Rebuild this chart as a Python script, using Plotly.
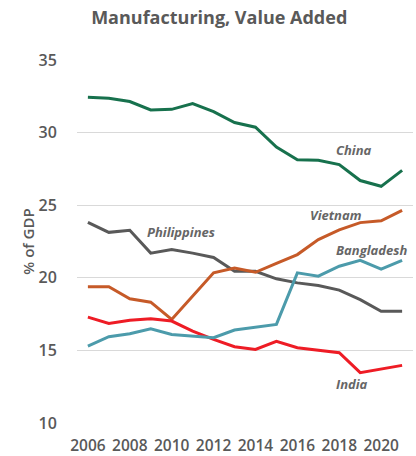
import plotly.graph_objects as go

years = list(range(2006, 2022))
china = [32.43, 32.37, 32.14, 31.56, 31.6, 32.0, 31.45, 30.69, 30.37, 29.0, 28.13, 28.1, 27.8, 26.7, 26.3, 27.4]
philippines = [23.82, 23.13, 23.27, 21.7, 21.94, 21.7, 21.4, 20.45, 20.45, 19.93, 19.65, 19.47, 19.15, 18.5, 17.7, 17.7]
vietnam = [19.38, 19.38, 18.55, 18.32, 17.13, 18.7, 20.34, 20.68, 20.38, 21.0, 21.6, 22.63, 23.3, 23.8, 23.93, 24.64]
india = [17.29, 16.86, 17.08, 17.18, 17.02, 16.33, 15.76, 15.25, 15.07, 15.62, 15.18, 15.0, 14.84, 13.47, 13.7, 13.97]
bangladesh = [15.3, 15.94, 16.15, 16.49, 16.1, 15.98, 15.87, 16.4, 16.58, 16.79, 20.34, 20.11, 20.8, 21.2, 20.6, 21.2]

series = [
    ("China", china, "#17714d"),
    ("Philippines", philippines, "#595959"),
    ("Vietnam", vietnam, "#c65a28"),
    ("India", india, "#ee1c25"),
    ("Bangladesh", bangladesh, "#4c9bab"),
]

label_pos = {
    "China": (2018.7, 28.8),
    "Vietnam": (2017.85, 24.3),
    "Philippines": (2010.45, 23.15),
    "Bangladesh": (2019.55, 21.9),
    "India": (2018.6, 12.7),
}

FONT = "Open Sans"
GRAY = "#595959"

fig = go.Figure()
for name, vals, col in series:
    fig.add_trace(go.Scatter(x=years, y=vals, mode="lines", name=name,
                             line=dict(color=col, width=3)))

for name, (lx, ly) in label_pos.items():
    fig.add_annotation(x=lx, y=ly, text=f"<i><b>{name}</b></i>", showarrow=False,
                       font=dict(family=FONT, size=13, color="#666666"))

fig.update_layout(
    width=416, height=456,
    margin=dict(l=77, r=3, t=60, b=33),
    paper_bgcolor="white", plot_bgcolor="white",
    showlegend=False,
    title=dict(text="<b>Manufacturing, Value Added</b>", x=0.527, xanchor="center",
               y=0.962, yanchor="middle",
               font=dict(family=FONT, size=18, color=GRAY)),
    xaxis=dict(range=[2005.48, 2021.52], tickvals=[2006, 2008, 2010, 2012, 2014, 2016, 2018, 2020],
               showgrid=False, zeroline=False, showline=False, automargin=False,
               tickfont=dict(family=FONT, size=15.5, color=GRAY, weight=600),
               ticks="outside", ticklen=8, tickcolor="rgba(0,0,0,0)"),
    yaxis=dict(range=[10, 35], tickvals=[10, 15, 20, 25, 30, 35],
               showgrid=True, gridcolor="#d9d9d9", gridwidth=1, zeroline=False, showline=False,
               automargin=False,
               tickfont=dict(family=FONT, size=16, color=GRAY, weight=600),
               ticks="outside", ticklen=16, tickcolor="rgba(0,0,0,0)",
               title=dict(text="% of GDP", standoff=0,
                          font=dict(family=FONT, size=15, color=GRAY, weight=600))),
)

fig.write_html("out.html")
